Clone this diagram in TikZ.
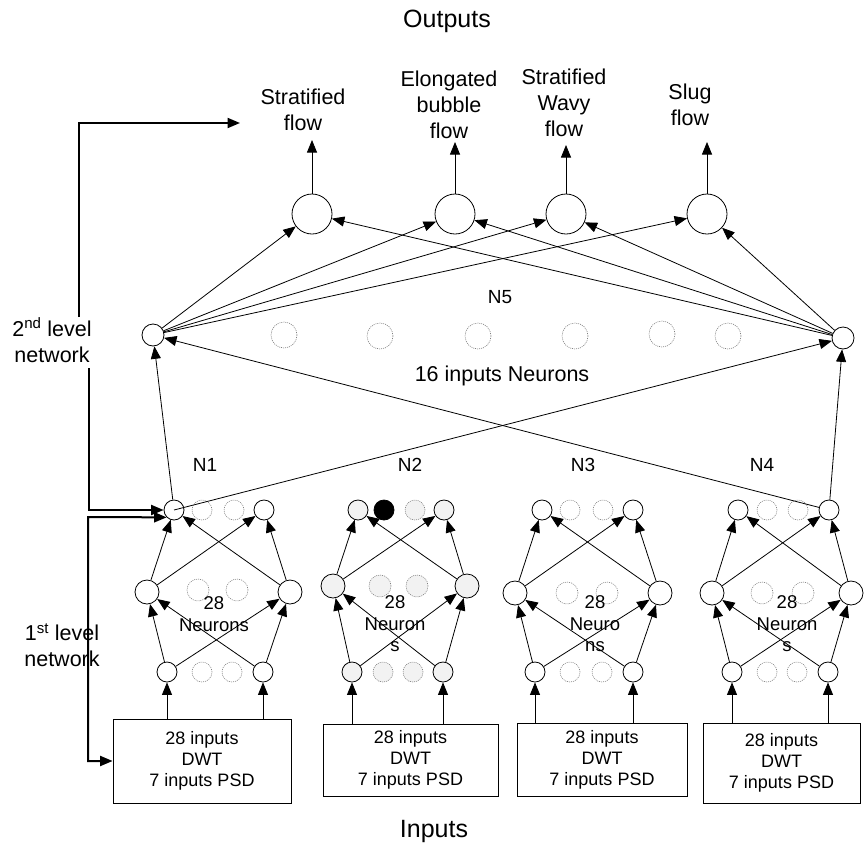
\documentclass[tikz,border=0pt]{standalone}
\usepackage{fontspec}
\setmainfont{Liberation Sans}
\usepackage{tikz}
\usetikzlibrary{arrows.meta}
\tikzset{neuron/.style={circle,draw,inner sep=0pt,minimum size=20pt},
         midneuron/.style={neuron,minimum size=24pt},
         outneuron/.style={neuron,minimum size=40pt},
         ghost/.style={circle,draw=gray,line width=0.6pt,dash pattern=on 1pt off 1pt,inner sep=0pt,minimum size=20pt},
         midghost/.style={ghost,minimum size=22pt},
         bigghost/.style={ghost,minimum size=26pt},
         shaded/.style={fill=gray!10},
         inbox/.style={draw,align=center,inner sep=0pt,font=\fontsize{18}{21}\selectfont},
         flowlabel/.style={align=center,font=\fontsize{21.5}{26}\selectfont},
         netlabel/.style={font=\fontsize{19}{22}\selectfont},
         countlabel/.style={align=center,font=\fontsize{18.5}{21.5}\selectfont},
         titlelabel/.style={font=\fontsize{25}{28}\selectfont},
         levelline/.style={line width=2pt},
         >={Triangle[length=12.5pt,width=10pt]}}

\begin{document}
\begin{tikzpicture}[x=1pt,y=-1pt,line width=0.8pt]
\useasboundingbox (0,0) rectangle (864,846);
\node[titlelabel] (outputs) at (447,21) {Outputs};
\node[titlelabel] (inputs) at (434,831) {Inputs};

\node[flowlabel] (lab1) at (303,110) {Stratified\\flow};
\node[flowlabel] (lab2) at (449,105) {Elongated\\bubble\\flow};
\node[flowlabel] (lab3) at (564,103) {Stratified\\Wavy\\flow};
\node[flowlabel] (lab4) at (690,105) {Slug\\flow};
\node[outneuron] (o1) at (312,214) {};
\node[outneuron] (o2) at (455,214) {};
\node[outneuron] (o3) at (566,214) {};
\node[outneuron] (o4) at (707,214) {};
\coordinate (t1) at (312,140);
\coordinate (t2) at (455,142);
\coordinate (t3) at (566,145);
\coordinate (t4) at (707,142);
\draw[->] (o1) -- (t1);
\draw[->] (o2) -- (t2);
\draw[->] (o3) -- (t3);
\draw[->] (o4) -- (t4);

\node[netlabel] (n5) at (500,297) {N5};
\node[neuron,minimum size=22pt] (s1) at (153,335) {};
\node[neuron,minimum size=22pt] (s2) at (843,338) {};
\node[bigghost] (sg1) at (284,335) {};
\node[bigghost] (sg2) at (380,336) {};
\node[bigghost] (sg3) at (478,336) {};
\node[bigghost] (sg4) at (575,336) {};
\node[bigghost] (sg5) at (662,334) {};
\node[bigghost] (sg6) at (728,336) {};
\node[flowlabel] (sixteen) at (502,376) {16 inputs Neurons};
\draw[->] (s1) -- (o1);
\draw[->] (s1) -- (o2);
\draw[->] (s1) -- (o3);
\draw[->] (s1) -- (o4);
\draw[->] (s2) -- (o1);
\draw[->] (s2) -- (o2);
\draw[->] (s2) -- (o3);
\draw[->] (s2) -- (o4);

\node[flowlabel] (lvl2) at (52,340) {2\textsuperscript{nd} level\\network};
\node[flowlabel] (lvl1) at (62,645) {1\textsuperscript{st} level\\network};

\node[netlabel] (lab n1) at (205,465) {N1};
\node[neuron] (n1t1) at (174,510) {};
\node[ghost] (n1tg1) at (202,510) {};
\node[ghost] (n1tg2) at (234,510) {};
\node[neuron] (n1t2) at (264,510) {};
\node[midneuron] (n1m1) at (147,592) {};
\node[midghost] (n1mg1) at (198,590) {};
\node[midghost] (n1mg2) at (237,590) {};
\node[midneuron] (n1m2) at (290,592) {};
\node[neuron] (n1b1) at (167,672) {};
\node[ghost] (n1bg1) at (202,672) {};
\node[ghost] (n1bg2) at (232,672) {};
\node[neuron] (n1b2) at (263,672) {};
\node[countlabel] (n1txt) at (214,614) {28\\Neurons};
\node[inbox,minimum width=178pt,minimum height=84pt] (box1) at (202,761) {28 inputs\\DWT\\7 inputs PSD};
\draw[->] (n1b1) -- (n1m1);
\draw[->] (n1b1) -- (n1m2);
\draw[->] (n1b2) -- (n1m1);
\draw[->] (n1b2) -- (n1m2);
\draw[->] (n1m1) -- (n1t1);
\draw[->] (n1m1) -- (n1t2);
\draw[->] (n1m2) -- (n1t1);
\draw[->] (n1m2) -- (n1t2);
\draw[->] (n1b1 |- box1.north) -- (n1b1);
\draw[->] (n1b2 |- box1.north) -- (n1b2);

\node[netlabel] (lab n2) at (410,465) {N2};
\node[neuron,shaded] (n2t1) at (358,510) {};
\node[neuron,fill=black] (n2tk) at (384,510) {};
\node[ghost,shaded] (n2tg) at (415,510) {};
\node[neuron,shaded] (n2t2) at (444,510) {};
\node[midneuron,shaded] (n2m1) at (333,586) {};
\node[midghost,shaded] (n2mg1) at (380,586) {};
\node[midghost,shaded] (n2mg2) at (417,586) {};
\node[midneuron,shaded] (n2m2) at (467,586) {};
\node[neuron,shaded] (n2b1) at (352,672) {};
\node[ghost,shaded] (n2bg1) at (383,672) {};
\node[ghost,shaded] (n2bg2) at (413,672) {};
\node[neuron,shaded] (n2b2) at (443,672) {};
\node[countlabel] (n2txt) at (395,624) {28\\Neuron\\s};
\node[inbox,minimum width=175pt,minimum height=72pt] (box2) at (410.5,760) {28 inputs\\DWT\\7 inputs PSD};
\draw[->] (n2b1) -- (n2m1);
\draw[->] (n2b1) -- (n2m2);
\draw[->] (n2b2) -- (n2m1);
\draw[->] (n2b2) -- (n2m2);
\draw[->] (n2m1) -- (n2t1);
\draw[->] (n2m1) -- (n2t2);
\draw[->] (n2m2) -- (n2t1);
\draw[->] (n2m2) -- (n2t2);
\draw[->] (n2b1 |- box2.north) -- (n2b1);
\draw[->] (n2b2 |- box2.north) -- (n2b2);

\node[netlabel] (lab n3) at (583,465) {N3};
\node[neuron] (n3t1) at (542,510) {};
\node[ghost] (n3tg1) at (570,510) {};
\node[ghost] (n3tg2) at (603,510) {};
\node[neuron] (n3t2) at (633,510) {};
\node[midneuron] (n3m1) at (515,593) {};
\node[midghost] (n3mg1) at (567,593) {};
\node[midghost] (n3mg2) at (607,593) {};
\node[midneuron] (n3m2) at (660,593) {};
\node[neuron] (n3b1) at (535,672) {};
\node[ghost] (n3bg1) at (570,672) {};
\node[ghost] (n3bg2) at (602,672) {};
\node[neuron] (n3b2) at (633,672) {};
\node[countlabel] (n3txt) at (595,624) {28\\Neuro\\ns};
\node[inbox,minimum width=170pt,minimum height=73pt] (box3) at (602,759.5) {28 inputs\\DWT\\7 inputs PSD};
\draw[->] (n3b1) -- (n3m1);
\draw[->] (n3b1) -- (n3m2);
\draw[->] (n3b2) -- (n3m1);
\draw[->] (n3b2) -- (n3m2);
\draw[->] (n3m1) -- (n3t1);
\draw[->] (n3m1) -- (n3t2);
\draw[->] (n3m2) -- (n3t1);
\draw[->] (n3m2) -- (n3t2);
\draw[->] (n3b1 |- box3.north) -- (n3b1);
\draw[->] (n3b2 |- box3.north) -- (n3b2);

\node[netlabel] (lab n4) at (762,465) {N4};
\node[neuron] (n4t1) at (738,510) {};
\node[ghost] (n4tg1) at (767,510) {};
\node[ghost] (n4tg2) at (798,510) {};
\node[neuron] (n4t2) at (829,510) {};
\node[midneuron] (n4m1) at (712,593) {};
\node[midghost] (n4mg1) at (762,593) {};
\node[midghost] (n4mg2) at (803,593) {};
\node[midneuron] (n4m2) at (851,593) {};
\node[neuron] (n4b1) at (732,672) {};
\node[ghost] (n4bg1) at (767,672) {};
\node[ghost] (n4bg2) at (797,672) {};
\node[neuron] (n4b2) at (828,672) {};
\node[countlabel] (n4txt) at (787,624) {28\\Neuron\\s};
\node[inbox,minimum width=157pt,minimum height=80pt] (box4) at (781.5,763) {28 inputs\\DWT\\7 inputs PSD};
\draw[->] (n4b1) -- (n4m1);
\draw[->] (n4b1) -- (n4m2);
\draw[->] (n4b2) -- (n4m1);
\draw[->] (n4b2) -- (n4m2);
\draw[->] (n4m1) -- (n4t1);
\draw[->] (n4m1) -- (n4t2);
\draw[->] (n4m2) -- (n4t1);
\draw[->] (n4m2) -- (n4t2);
\draw[->] (n4b1 |- box4.north) -- (n4b1);
\draw[->] (n4b2 |- box4.north) -- (n4b2);

\draw[->] (n1t1) -- (s1);
\draw[->] (n1t1.center) -- (s2);
\draw[->] (n4t2) -- (s1);
\draw[->] (n4t2) -- (s2);

\coordinate (up1) at (79,317);
\coordinate (upend) at (240,123);
\coordinate (dn1) at (89,368);
\coordinate (dn2) at (88,517);
\draw[levelline,->] (up1) |- (upend);
\draw[levelline,->] (dn1) |- (n1t1);
\draw[levelline,<->] (n1t1.225) -- (dn2) |- (box1.west);
\end{tikzpicture}
\end{document}
